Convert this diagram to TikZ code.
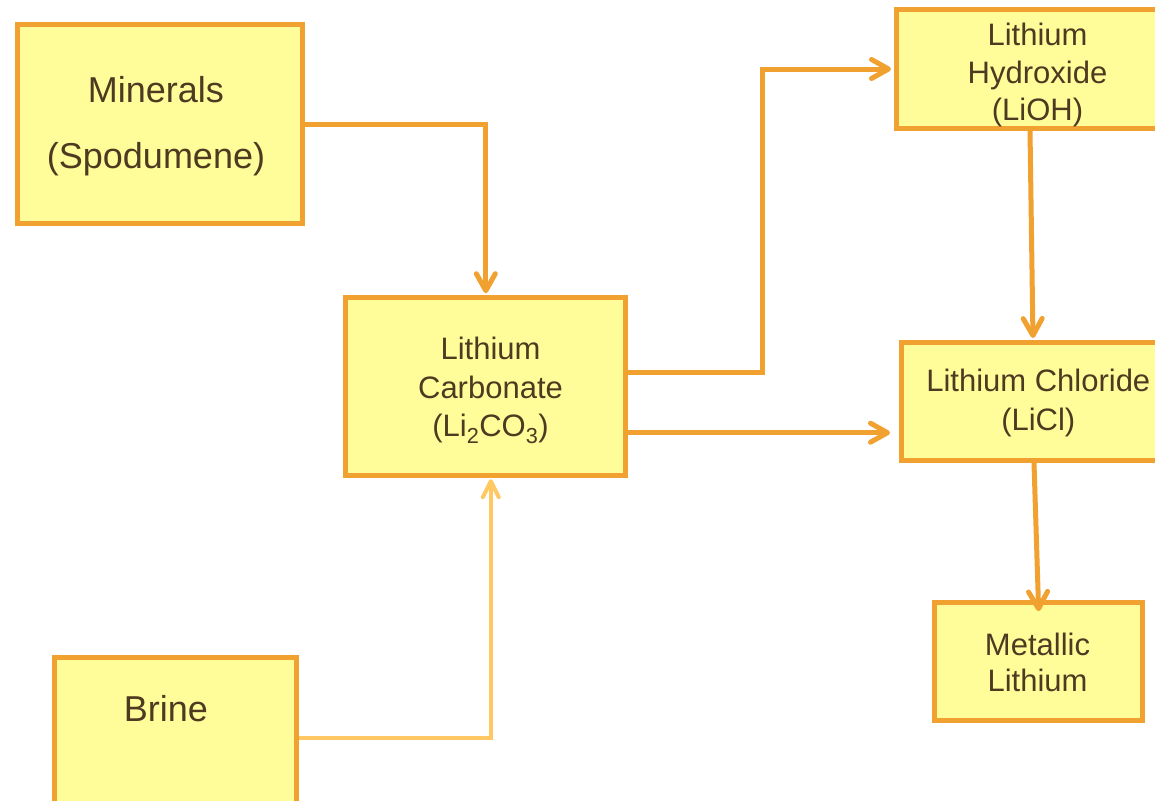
\documentclass[tikz,border=0pt]{standalone}
\usepackage{fontspec}
\setmainfont{Liberation Sans}
\usetikzlibrary{arrows.meta}
\definecolor{boxfill}{RGB}{255,253,153}
\definecolor{boxline}{RGB}{240,161,48}
\definecolor{brineline}{RGB}{255,200,98}
\definecolor{textbrown}{RGB}{77,58,33}
\tikzset{
  procbox/.style={draw=boxline, fill=boxfill, line width=5pt, rectangle, inner sep=0pt},
  txt/.style={text=textbrown, font=\fontsize{31}{37}\selectfont, anchor=base, inner sep=0pt},
  bigtxt/.style={text=textbrown, font=\fontsize{36}{40}\selectfont, anchor=base, inner sep=0pt},
  conn/.style={draw=boxline, line width=5pt, -{Straight Barb[length=17pt,width=19pt,round]}},
  brineconn/.style={draw=brineline, line width=4pt, -{Straight Barb[length=16pt,width=16pt,round]}}
}
\begin{document}
\begin{tikzpicture}[x=1pt,y=-1pt]
\useasboundingbox (0,0) rectangle (1155,800);
\clip (0,0) rectangle (1155,800);
% boxes
\node[procbox, minimum width=285pt, minimum height=198pt] (minerals) at (160,124) {};
\node[procbox, minimum width=280pt, minimum height=178pt] (carb) at (485.8,386.7) {};
\node[procbox, minimum width=282pt, minimum height=119pt] (hyd) at (1037.5,69) {};
\node[procbox, minimum width=273pt, minimum height=118pt] (chl) at (1038,401.5) {};
\node[procbox, minimum width=208pt, minimum height=118pt] (met) at (1038.3,661.7) {};
\node[procbox, minimum width=242pt, minimum height=162pt] (brine) at (175.7,738) {};
% texts
\node[bigtxt] (mineralsT1) at (156,102.7) {Minerals};
\node[bigtxt] (mineralsT2) at (156,168.3) {(Spodumene)};
\node[txt] (carbT1) at (490.5,359) {Lithium};
\node[txt] (carbT2) at (490.5,398) {Carbonate};
\node[txt] (carbT3) at (490.5,436.7) {(Li\textsubscript{2}CO\textsubscript{3})};
\node[txt] (hydT1) at (1037.5,45.7) {Lithium};
\node[txt] (hydT2) at (1037.5,83.3) {Hydroxide};
\node[txt] (hydT3) at (1037.5,120.5) {(LiOH)};
\node[txt] (chlT1) at (1038.3,391.7) {Lithium Chloride};
\node[txt] (chlT2) at (1038.3,430) {(LiCl)};
\node[txt] (metT1) at (1037.5,655) {Metallic};
\node[txt] (metT2) at (1037.5,691.7) {Lithium};
\node[bigtxt] (brineT) at (166,721.7) {Brine};
% connectors
\draw[conn, shorten >=2pt] (minerals.east) -| (carb.north);
\draw[conn, shorten >=3pt] ([yshift=14pt]carb.east) -- ++(134,0) |- (hyd.west);
\draw[conn, shorten >=9pt] ([yshift=-46pt]carb.east) -- ([yshift=-46pt]carb.east -| chl.west);
\draw[conn, shorten >=2pt] ([xshift=-7.5pt]hyd.south) -- ([xshift=-5pt]chl.north);
\draw[conn, shorten >=-11pt] ([xshift=-4pt]chl.south) -- (met.north);
\draw[brineconn, shorten >=1pt] (brine.east) -- ([xshift=5pt]carb.south |- brine.east) -- ([xshift=5pt]carb.south);
\end{tikzpicture}
\end{document}
